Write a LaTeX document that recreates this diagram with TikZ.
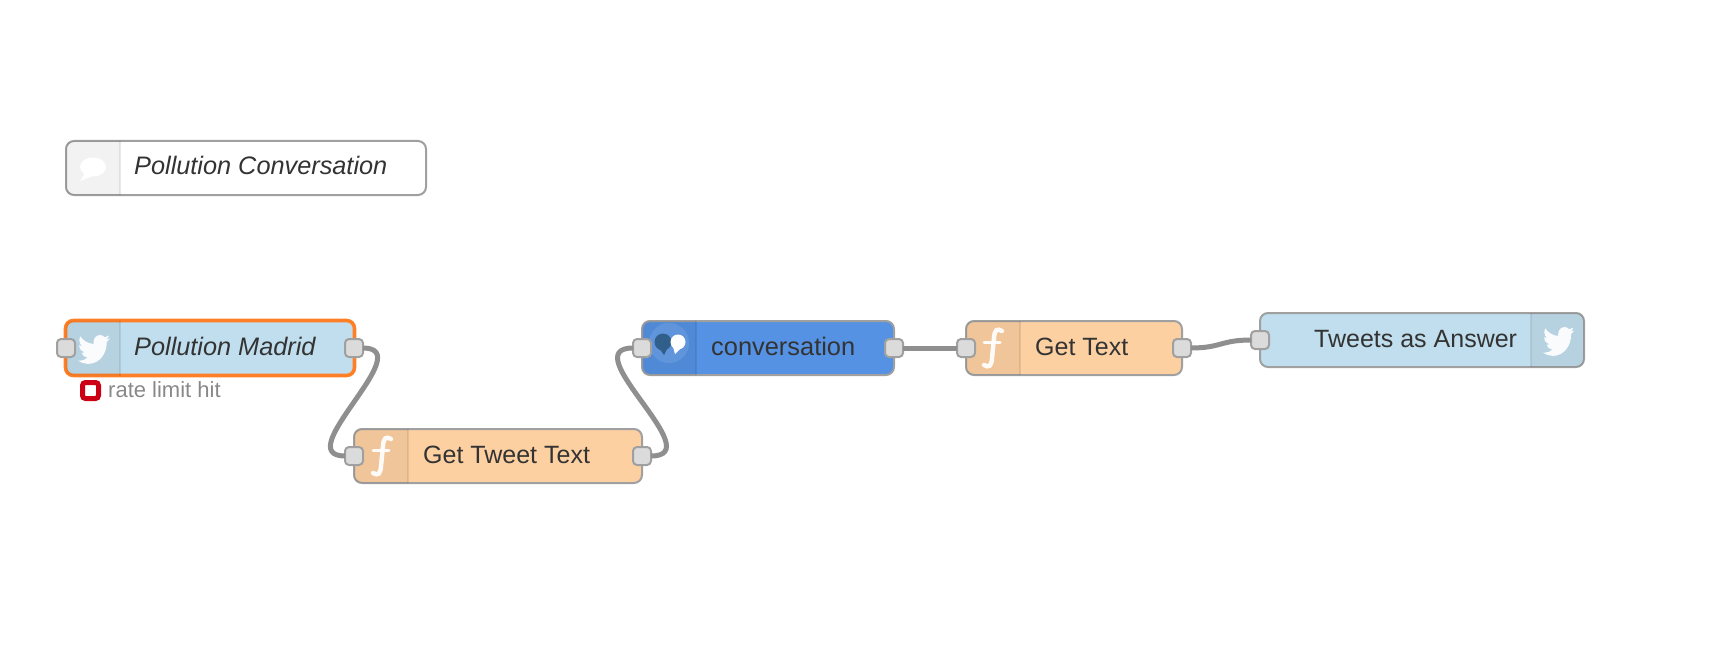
\documentclass[tikz,border=0pt]{standalone}
\usepackage{fontspec}
\setmainfont{Liberation Sans}
\usetikzlibrary{svg.path,calc}
\definecolor{FlowTwitter}{HTML}{C0DEED}
\definecolor{FlowFunction}{HTML}{FDD0A2}
\definecolor{FlowChat}{HTML}{5592E3}
\definecolor{FlowBorder}{HTML}{A0A0A0}
\definecolor{FlowPort}{HTML}{DBDBDB}
\definecolor{FlowWire}{HTML}{8F8F8F}
\definecolor{FlowInk}{HTML}{333333}
\definecolor{FlowSelect}{HTML}{FF7F27}
\definecolor{FlowError}{HTML}{CC0014}
\definecolor{FlowBubble}{HTML}{2F5F8A}
\tikzset{
  bird/.pic={\fill[white,opacity=0.92] svg {M 23.954 4.569 c -.885 .389 -1.83 .654 -2.825 .775 1.014 -.611 1.794 -1.574 2.163 -2.723 -.951 .555 -2.005 .959 -3.127 1.184 -.896 -.959 -2.173 -1.559 -3.591 -1.559 -2.717 0 -4.92 2.203 -4.92 4.917 0 .39 .045 .765 .127 1.124 C 7.691 8.094 4.066 6.13 1.64 3.161 c -.427 .722 -.666 1.561 -.666 2.475 0 1.71 .87 3.213 2.188 4.096 -.807 -.026 -1.566 -.248 -2.228 -.616 v .061 c 0 2.385 1.693 4.374 3.946 4.827 -.413 .111 -.849 .171 -1.296 .171 -.314 0 -.615 -.03 -.916 -.086 .631 1.953 2.445 3.377 4.604 3.417 -1.68 1.319 -3.809 2.105 -6.102 2.105 -.39 0 -.779 -.023 -1.17 -.067 2.189 1.394 4.768 2.209 7.557 2.209 9.054 0 13.999 -7.496 13.999 -13.986 0 -.209 0 -.42 -.015 -.63 .961 -.689 1.8 -1.56 2.46 -2.548 l -.047 -.02 z};},
  funcicon/.pic={\draw[white,opacity=0.92,line width=4.5pt,line cap=round]
      (9,-17) .. controls (4,-20) and (1.5,-18) .. (1,-10) -- (-1,10) .. controls (-1.5,18) and (-4,20) .. (-9,17);
      \draw[white,opacity=0.92,line width=3pt,line cap=round] (-9,-6) -- (7,-6);}
}
\begin{document}
\begin{tikzpicture}[x=1pt,y=-1pt,
  flownode/.style={draw=FlowBorder, line width=2pt, rounded corners=8pt, inner sep=0pt, outer sep=0pt,
                   minimum height=54pt},
  port/.style={draw=FlowBorder, fill=FlowPort, line width=2pt, rounded corners=4pt, inner sep=0pt,
               outer sep=0pt, minimum size=18pt},
  wire/.style={draw=FlowWire, line width=5pt},
  flowlabel/.style={anchor=base west, inner sep=0pt, text=FlowInk, font=\fontsize{25}{25}\selectfont},
  band/.style={fill=black, fill opacity=0.05}]
  \useasboundingbox (0,0) rectangle (1732,650);

  % bodies
  \node[flownode, fill=white, minimum width=360pt] (comment) at (246,168) {};
  \node[flownode, fill=FlowTwitter, draw=FlowSelect, line width=3.6pt, minimum width=289pt, minimum height=55pt] (madrid) at (210,348) {};
  \node[flownode, fill=FlowFunction, minimum width=288pt] (tweettext) at (498,456) {};
  \node[flownode, fill=FlowChat, minimum width=252pt] (chat) at (768,348) {};
  \node[flownode, fill=FlowFunction, minimum width=216pt] (gettext) at (1074,348) {};
  \node[flownode, fill=FlowTwitter, minimum width=324pt] (answer) at (1422,340) {};

  % icon bands
  \foreach \body/\sep in {comment/120,madrid/120,tweettext/408,chat/696,gettext/1020}{
    \fill[band] (\body.north -| \sep,0) [rounded corners=7pt] -- (\body.north west) -- (\body.south west)
      [sharp corners] -- (\body.south -| \sep,0) -- cycle;
    \draw[black,opacity=0.08,line width=1.5pt] (\body.north -| \sep,0) -- (\body.south -| \sep,0);
  }
  \fill[band] (answer.north -| 1531,0) [rounded corners=7pt] -- (answer.north east) -- (answer.south east)
    [sharp corners] -- (answer.south -| 1531,0) -- cycle;
  \draw[black,opacity=0.08,line width=1.5pt] (answer.north -| 1531,0) -- (answer.south -| 1531,0);

  % icons
  \pic at (78,331.7) [xscale=1.33,yscale=-1.48] {bird};
  \pic at (1543,323.7) [xscale=1.3,yscale=-1.48] {bird};
  \pic at (382,456) {funcicon};
  \pic at (993,348) {funcicon};
  \fill[white,opacity=0.1] (669,343) circle (20);
  \fill[FlowBubble] (663,342) circle (8.5);
  \fill[FlowBubble] (659,348) -- (664,355) -- (667,349) -- cycle;
  \fill[white] (678,342) circle (7.5);
  \fill[white] (673,347) -- (675,354) -- (680,349) -- cycle;
  \fill[white] (93,167) ellipse (13 and 9.5);
  \fill[white] (86,172) -- (80,181) -- (95,175) -- cycle;

  % labels
  \node[flowlabel, font=\fontsize{25.3}{25.3}\selectfont] (commentlabel) at (134,175) {\itshape Pollution Conversation};
  \node[flowlabel, font=\fontsize{25.3}{25.3}\selectfont] (madridlabel) at (134,355) {\itshape Pollution Madrid};
  \node[flowlabel] (tweettextlabel) at (423,463) {Get Tweet Text};
  \node[flowlabel, font=\fontsize{25.4}{25.4}\selectfont] (chatlabel) at (711,355) {conversation};
  \node[flowlabel] (gettextlabel) at (1035,355) {Get Text};
  \node[flowlabel] (answerlabel) at (1314,347) {Tweets as Answer};

  % status
  \node[draw=FlowError, fill=white, line width=5pt, rounded corners=3pt, minimum size=16pt, inner sep=0pt, outer sep=0pt] (status) at (90.5,390.5) {};
  \node[flowlabel, text=FlowBorder!85!black, font=\fontsize{22}{22}\selectfont] (statuslabel) at (108,397) {rate limit hit};

  % ports
  \foreach \name/\x/\y in {madridin/66/348,madridout/354/348,tweetin/354/456,tweetout/642/456,
      chatin/642/348,chatout/894/348,getin/966/348,getout/1182/348,answerin/1260/340}{
    \node[port] (\name) at (\x,\y) {};
  }

  % wires
  \draw[wire] (madridout.east) .. controls +(57,0) and +(-57,0) .. (tweetin.west);
  \draw[wire] (tweetout.east) .. controls +(60,0) and +(-60,0) .. (chatin.west);
  \draw[wire] (chatout.east) -- (getin.west);
  \draw[wire] (getout.east) .. controls +(30,0) and +(-30,0) .. (answerin.west);
\end{tikzpicture}
\end{document}
